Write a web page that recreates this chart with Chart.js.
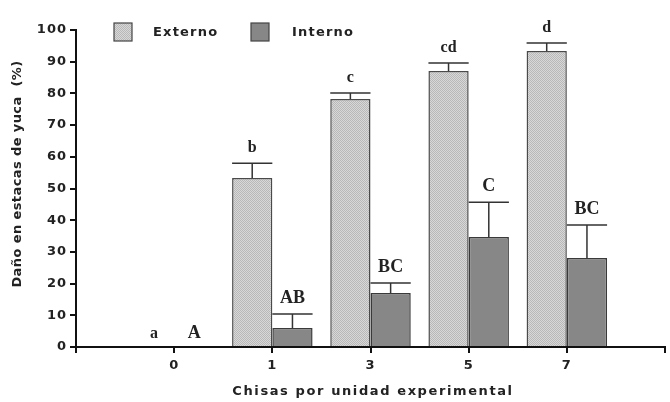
<!DOCTYPE html>
<html>
<head>
<meta charset="utf-8">
<script src="https://cdn.jsdelivr.net/npm/chart.js@4/dist/chart.umd.min.js"></script>
<style>
  html,body{margin:0;padding:0;background:#fff;}
  canvas{display:block;}
</style>
</head>
<body>
<canvas id="c" width="670" height="402"></canvas>
<script>
// ---- data ----
const categories = ['0', '1', '3', '5', '7'];
const externo = [0, 53.3, 78.2, 87.1, 93.4];
const externoErr = [0, 4.7, 1.9, 2.5, 2.5];
const interno = [0, 6.0, 17.0, 34.7, 28.1];
const internoErr = [0, 4.4, 3.2, 11.0, 10.4];
const letrasExterno = ['a', 'b', 'c', 'cd', 'd'];
const letrasInterno = ['A', 'AB', 'BC', 'C', 'BC'];
const yTicks = [0, 10, 20, 30, 40, 50, 60, 70, 80, 90, 100];
const seriesNames = ['Externo', 'Interno'];
const xTitle = 'Chisas por unidad experimental';
const yTitle = 'Daño en estacas de yuca  (%)';

// padded category axis (blank slot on each end)
const labels = [''].concat(categories, ['']);
const pad = arr => [null].concat(arr, [null]);

// dotted pattern for Externo
function makePattern() {
  const p = document.createElement('canvas');
  p.width = 2; p.height = 2;
  const g = p.getContext('2d');
  g.fillStyle = '#d8d8d8'; g.fillRect(0, 0, 2, 2);
  g.fillStyle = '#b8b8b8'; g.fillRect(0, 0, 1, 1); g.fillRect(1, 1, 1, 1);
  return g.createPattern(p, 'repeat');
}
const pat = makePattern();
const INT_FILL = '#878787';

const spacing = {
  id: 'spacing',
  beforeLayout(chart) { chart.ctx.letterSpacing = '1px'; },
  beforeDraw(chart) { chart.ctx.letterSpacing = '1px'; }
};

const annot = {
  id: 'annot',
  afterDatasetsDraw(chart) {
    const ctx = chart.ctx;
    const y = chart.scales.y;
    const errs = [externoErr, internoErr];
    const vals = [externo, interno];
    const lets = [letrasExterno, letrasInterno];
    ctx.save();
    ctx.letterSpacing = '0px';
    for (let d = 0; d < 2; d++) {
      const meta = chart.getDatasetMeta(d);
      meta.data.forEach((bar, i) => {
        const k = i - 1;
        if (k < 0 || k >= categories.length) return;
        const v = vals[d][k], e = errs[d][k];
        const half = bar.width / 2;
        const yTop = y.getPixelForValue(v);
        const yCap = y.getPixelForValue(v + e);
        if (e > 0) {
          ctx.strokeStyle = '#333';
          ctx.lineWidth = 1.5;
          ctx.beginPath();
          ctx.moveTo(bar.x, yTop);
          ctx.lineTo(bar.x, yCap);
          ctx.moveTo(bar.x - half, yCap);
          ctx.lineTo(bar.x + half, yCap);
          ctx.stroke();
        }
        ctx.fillStyle = '#222';
        ctx.textAlign = 'center';
        ctx.textBaseline = 'alphabetic';
        ctx.font = d === 0 ? 'bold 16px "Liberation Serif"' : 'bold 18px "Liberation Serif"';
        const gap = e > 0 ? 11 : 9;
        ctx.fillText(lets[d][k], bar.x, yCap - gap);
      });
    }
    ctx.restore();
  },
  afterDraw(chart) {
    const ctx = chart.ctx;
    ctx.save();
    const items = [
      {x: 114, tx: 153, fill: pat, name: seriesNames[0]},
      {x: 251, tx: 292, fill: INT_FILL, name: seriesNames[1]}
    ];
    items.forEach(it => {
      ctx.fillStyle = it.fill;
      ctx.fillRect(it.x, 23, 18, 18);
      ctx.strokeStyle = '#444';
      ctx.lineWidth = 1.2;
      ctx.strokeRect(it.x, 23, 18, 18);
      ctx.fillStyle = '#222';
      ctx.letterSpacing = '1.2px';
      ctx.font = 'bold 13px "DejaVu Sans"';
      ctx.textAlign = 'left';
      ctx.textBaseline = 'middle';
      ctx.fillText(it.name, it.tx, 33);
    });
    // axis titles
    ctx.fillStyle = '#222';
    ctx.font = 'bold 13px "DejaVu Sans"';
    ctx.textAlign = 'center';
    ctx.textBaseline = 'middle';
    ctx.letterSpacing = '1.6px';
    ctx.fillText(xTitle, 373, 392);
    ctx.translate(18, 174);
    ctx.rotate(-Math.PI / 2);
    ctx.letterSpacing = '0.4px';
    ctx.fillText(yTitle, 0, 0);
    ctx.restore();
  }
};

new Chart(document.getElementById('c'), {
  type: 'bar',
  data: {
    labels: labels,
    datasets: [
      {label: seriesNames[0], data: pad(externo), backgroundColor: pat, borderColor: '#4a4a4a', borderWidth: 1.5},
      {label: seriesNames[1], data: pad(interno), backgroundColor: INT_FILL, borderColor: '#3a3a3a', borderWidth: 1.5}
    ]
  },
  options: {
    responsive: false,
    animation: false,
    devicePixelRatio: 1,
    layout: {padding: {top: 30, right: 2, left: 0, bottom: 0}},
    datasets: {bar: {categoryPercentage: 0.82, barPercentage: 1}},
    plugins: {legend: {display: false}, tooltip: {enabled: false}},
    scales: {
      x: {
        offset: false,
        grid: {display: true, drawOnChartArea: false, drawTicks: true, tickLength: 6, color: '#111', lineWidth: 2, offset: false},
        border: {display: true, color: '#111', width: 2},
        ticks: {color: '#222', font: {family: 'DejaVu Sans', weight: 'bold', size: 13}, padding: 5, maxRotation: 0, autoSkip: false},
        title: {display: false},
        afterFit(s) { s.height = 55; }
      },
      y: {
        min: 0, max: 100,
        afterBuildTicks(s) { s.ticks = yTicks.map(v => ({value: v})); },
        grid: {display: true, drawOnChartArea: false, drawTicks: true, tickLength: 6, color: '#111', lineWidth: 2},
        border: {display: true, color: '#111', width: 2},
        ticks: {color: '#222', font: {family: 'DejaVu Sans', weight: 'bold', size: 13}, padding: 3},
        title: {display: false},
        afterFit(s) { s.width = 76; }
      }
    }
  },
  plugins: [spacing, annot]
});
</script>
</body>
</html>
